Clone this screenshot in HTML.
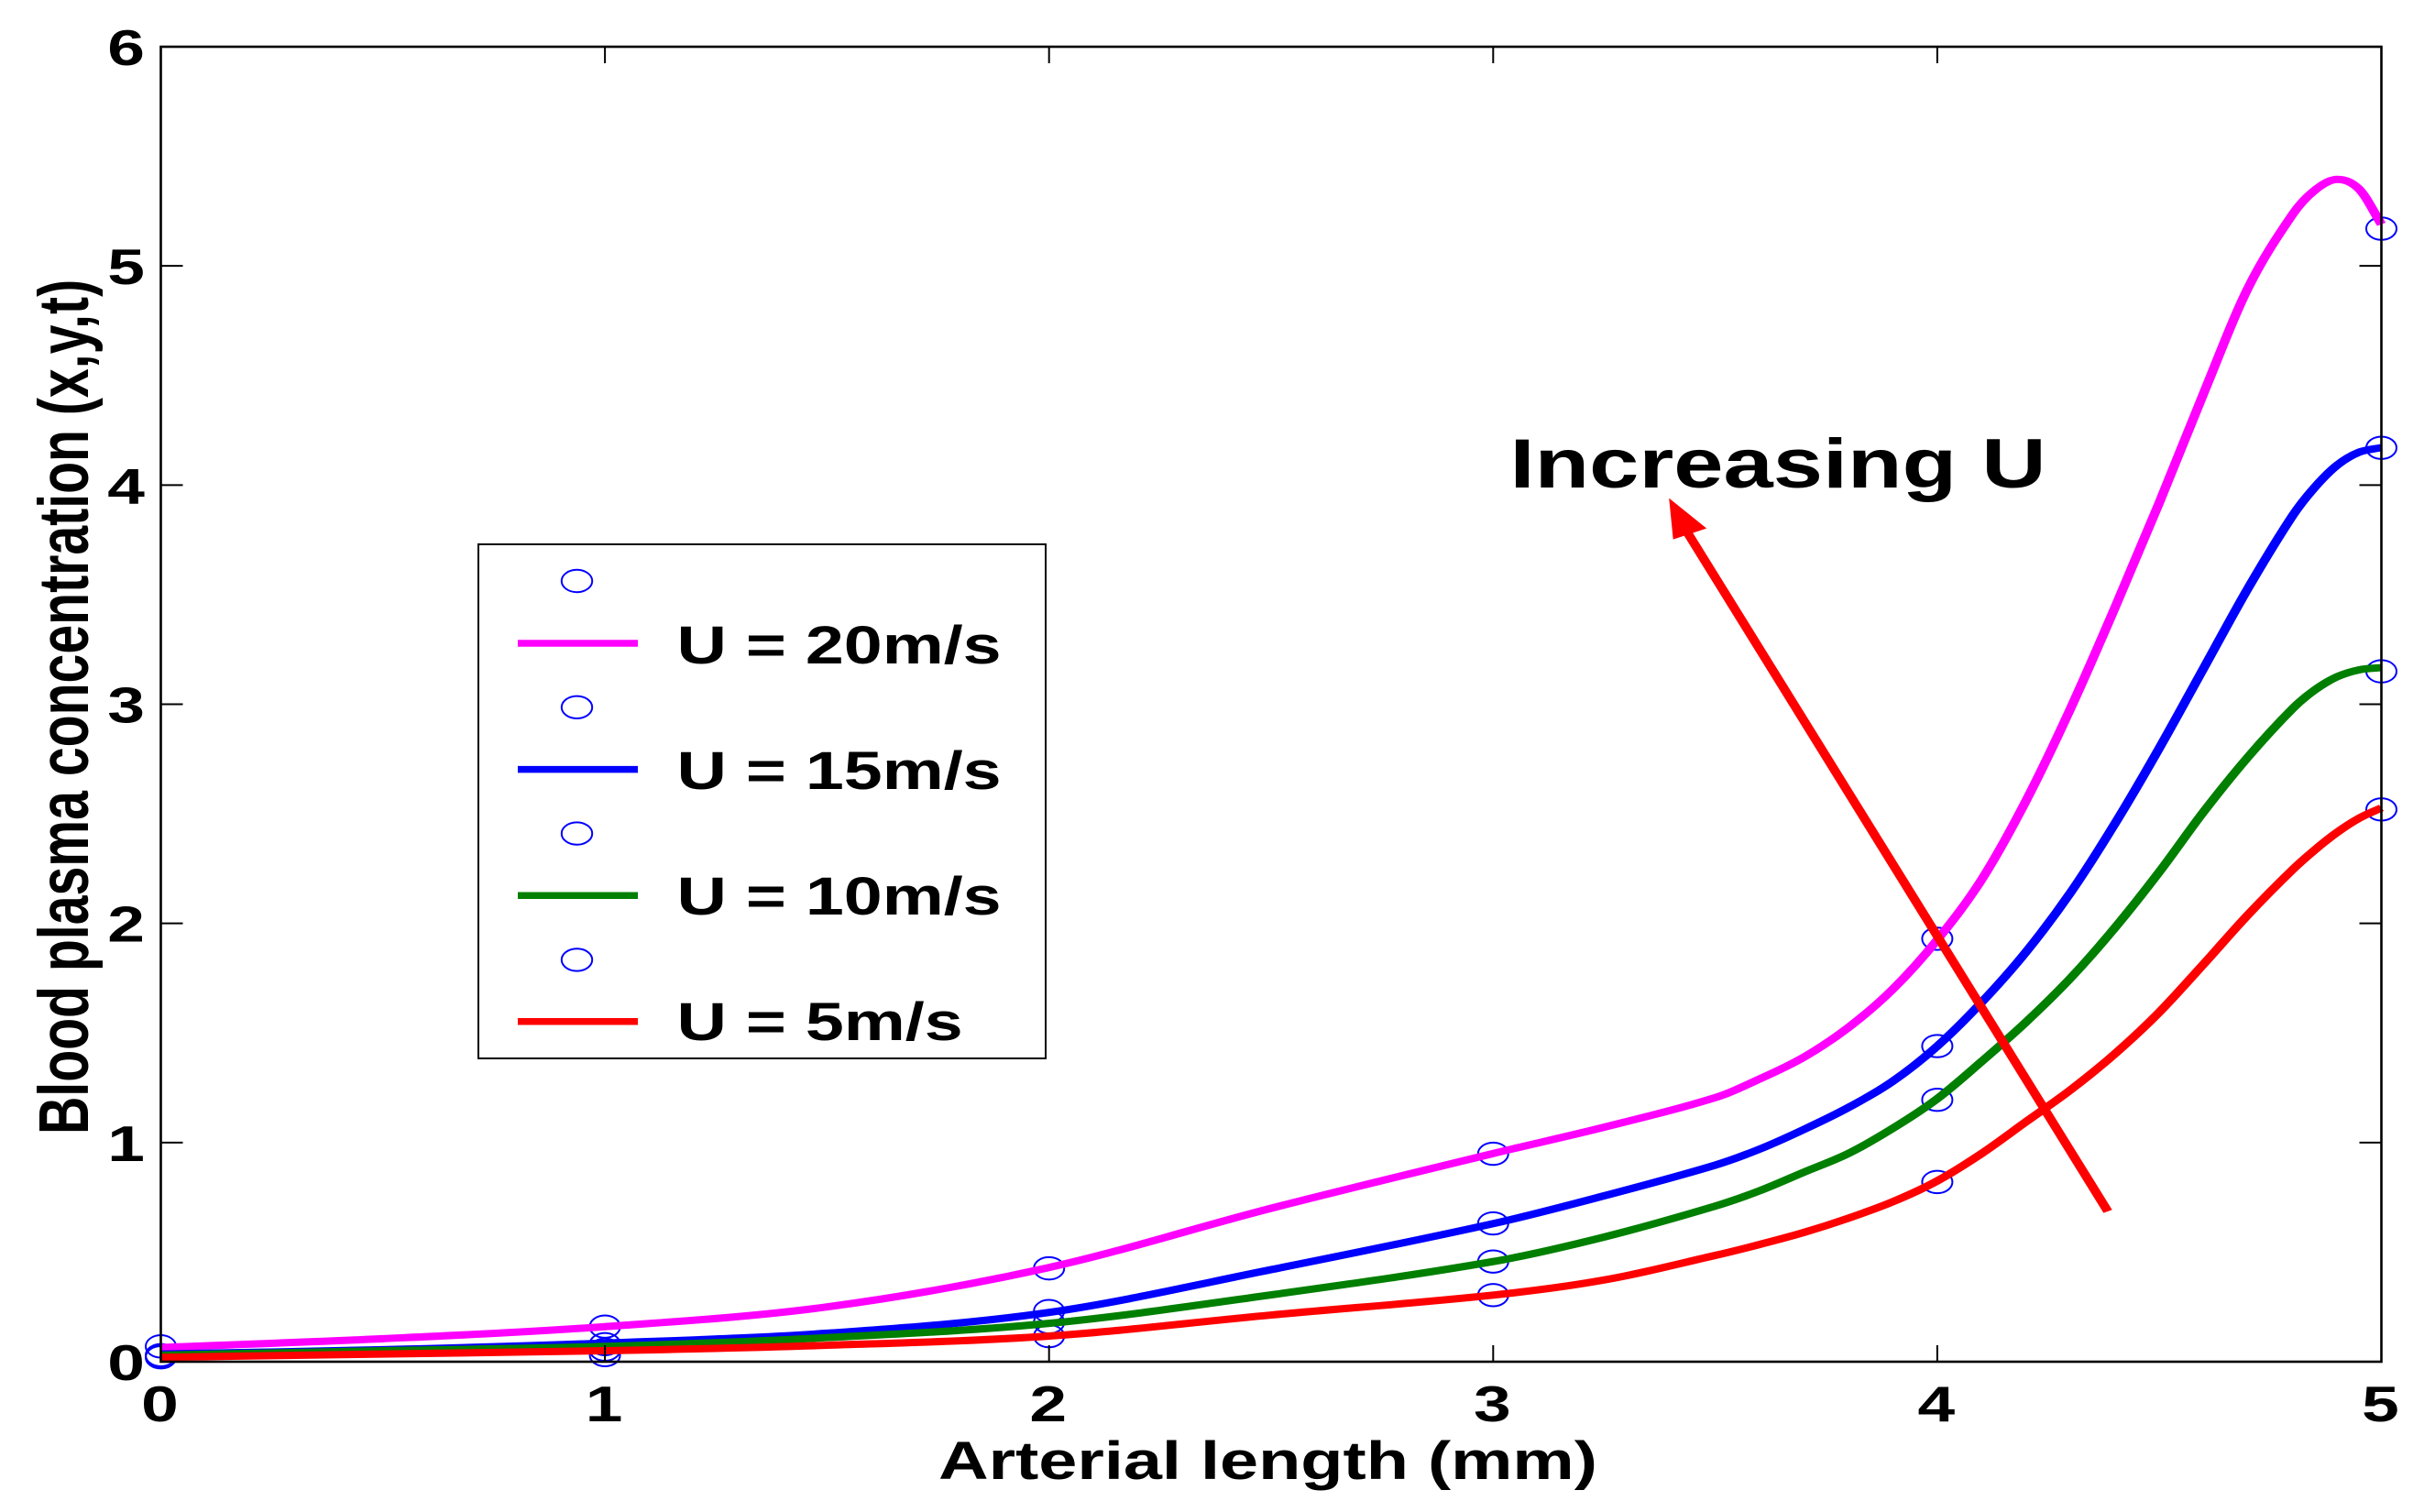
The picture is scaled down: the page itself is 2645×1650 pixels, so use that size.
<!DOCTYPE html>
<html lang="en">
<head>
<meta charset="utf-8">
<title>Blood plasma concentration vs arterial length</title>
<style>
html,body{margin:0;padding:0;background:#fff;width:2645px;height:1650px;overflow:hidden}
svg{display:block}
text{font-family:"Liberation Sans",Arial,sans-serif;font-weight:bold;fill:#000}
</style>
</head>
<body>
<svg id="chart" xmlns="http://www.w3.org/2000/svg" width="2645" height="1650" viewBox="0 0 2645 1650">
  <rect x="0" y="0" width="2645" height="1650" fill="#fff"/>
  <g id="markers"></g>
  <g id="lines"></g>
  <g id="axes"></g>
  <text font-size="58" transform="translate(1024,1614) scale(1.305,1)">Arterial length (mm)</text>
  <text font-size="57.2" transform="translate(96,1238) rotate(-90) scale(1,1.35)">Blood plasma concentration (x,y,t)</text>
  <g id="legend">
    <rect x="522" y="594" width="619" height="561" fill="#fff" stroke="#000" stroke-width="2"/>
  </g>
  <g id="annotation">
    <text font-size="76" transform="translate(1647.5,532) scale(1.283,1)">Increasing U</text>
  </g>
</svg>
<script>
// Axis ranges and tick labels
const xTicks = [0, 1, 2, 3, 4, 5];
const yTicks = [0, 1, 2, 3, 4, 5, 6];

// Series curves at shared arterial-length positions
const lengthMm = [0, 0.5, 1, 1.5, 2, 2.5, 3, 3.25, 3.5, 3.6, 3.7, 3.8, 3.9, 4, 4.1, 4.2, 4.3, 4.4, 4.5, 4.6, 4.7, 4.8, 4.85, 4.9, 4.95, 5];
const magentaY = [0.065, 0.105, 0.16, 0.25, 0.43, 0.70, 0.95, 1.07, 1.205, 1.29, 1.39, 1.525, 1.70, 1.925, 2.2, 2.56, 2.98, 3.44, 3.92, 4.42, 4.90, 5.235, 5.345, 5.395, 5.35, 5.19];
const blueY = [0.035, 0.055, 0.085, 0.13, 0.225, 0.42, 0.63, 0.757, 0.897, 0.97, 1.06, 1.16, 1.28, 1.44, 1.64, 1.87, 2.14, 2.455, 2.80, 3.165, 3.53, 3.86, 3.99, 4.09, 4.15, 4.171];
const greenY = [0.03, 0.05, 0.07, 0.11, 0.175, 0.305, 0.457, 0.569, 0.71, 0.78, 0.865, 0.95, 1.065, 1.2, 1.37, 1.55, 1.75, 1.98, 2.235, 2.51, 2.76, 2.98, 3.065, 3.125, 3.157, 3.167];
const redY = [0.02, 0.035, 0.05, 0.075, 0.117, 0.213, 0.304, 0.373, 0.485, 0.535, 0.59, 0.655, 0.73, 0.825, 0.95, 1.095, 1.24, 1.405, 1.595, 1.815, 2.04, 2.245, 2.335, 2.415, 2.48, 2.527];

// Circle markers
const markerX = [0, 1, 2, 3, 4, 5];
const magentaMarkers = [0.07, 0.16, 0.426, 0.949, 1.93, 5.17];
const blueMarkers = [0.03, 0.08, 0.231, 0.631, 1.44, 4.17];
const greenMarkers = [0.025, 0.055, 0.18, 0.457, 1.195, 3.15];
const redMarkers = [0.02, 0.03, 0.117, 0.304, 0.82, 2.52];

// Legend labels
const legendLabels = ['U = 20m/s', 'U = 15m/s', 'U = 10m/s', 'U = 5m/s'];

// Annotation arrow, in data units: [x, y]
const arrowTail = [4.384, 0.686];
const arrowTip = [3.396, 3.94];

const SVGNS = 'http://www.w3.org/2000/svg';
const plot = { left: 175.5, right: 2598.5, top: 51, bottom: 1486, xMin: 0, xMax: 5, yMin: 0, yMax: 6 };
// The reference raster is stretched horizontally; strokes are drawn in a stretched space
const stretch = 1.3;
function sx(v) { return plot.left + (v - plot.xMin) / (plot.xMax - plot.xMin) * (plot.right - plot.left); }
function sy(v) { return plot.bottom - (v - plot.yMin) / (plot.yMax - plot.yMin) * (plot.bottom - plot.top); }
function make(tag, attrs, parent) {
  const el = document.createElementNS(SVGNS, tag);
  for (const k in attrs) el.setAttribute(k, attrs[k]);
  parent.appendChild(el);
  return el;
}
// Cubic Hermite path with spacing-aware tangents, so uneven sample spacing does not add wobble
function smoothPath(xs, ys) {
  const p = xs.map((x, i) => [sx(x) / stretch, sy(ys[i])]);
  const n = p.length;
  const slope = p.map(function (pt, i) {
    const a = p[Math.max(i - 1, 0)], c = p[Math.min(i + 1, n - 1)];
    return (c[1] - a[1]) / (c[0] - a[0]);
  });
  let d = 'M' + p[0][0].toFixed(2) + ' ' + p[0][1].toFixed(2);
  for (let i = 0; i < n - 1; i++) {
    const b = p[i], c = p[i + 1], h = (c[0] - b[0]) / 3;
    d += 'C' + (b[0] + h).toFixed(2) + ' ' + (b[1] + slope[i] * h).toFixed(2) + ' ' + (c[0] - h).toFixed(2) + ' ' + (c[1] - slope[i + 1] * h).toFixed(2) + ' ' + c[0].toFixed(2) + ' ' + c[1].toFixed(2);
  }
  return d;
}

const seriesList = [
  { key: 'u-20', color: '#ff00ff', ys: magentaY, marks: magentaMarkers },
  { key: 'u-15', color: '#0000ff', ys: blueY, marks: blueMarkers },
  { key: 'u-10', color: '#007f00', ys: greenY, marks: greenMarkers },
  { key: 'u-5', color: '#ff0000', ys: redY, marks: redMarkers }
];

const markersG = document.getElementById('markers');
const linesG = document.getElementById('lines');
seriesList.forEach(function (s) {
  s.marks.forEach(function (v, i) {
    const m = make('ellipse', { cx: sx(markerX[i]), cy: sy(v), rx: 16.5, ry: 12.2, fill: 'none', stroke: '#0000ff', 'stroke-width': 2 }, markersG);
    
    
  });
});
seriesList.forEach(function (s) {
  const l = make('path', { d: smoothPath(lengthMm, s.ys), fill: 'none', stroke: s.color, 'stroke-width': 8, transform: 'scale(' + stretch + ',1)' }, linesG);
  
  
});

// Axes frame, ticks and tick labels
const axesG = document.getElementById('axes');
const frame = make('rect', { x: plot.left, y: plot.top, width: plot.right - plot.left, height: plot.bottom - plot.top, fill: 'none', stroke: '#000', 'stroke-width': 2.6 }, axesG);



xTicks.forEach(function (t) {
  const x = sx(t);
  if (t > plot.xMin && t < plot.xMax) {
    const b = make('line', { x1: x, x2: x, y1: plot.bottom, y2: plot.bottom - 18, stroke: '#000', 'stroke-width': 2 }, axesG);
    
    
    const u = make('line', { x1: x, x2: x, y1: plot.top, y2: plot.top + 18, stroke: '#000', 'stroke-width': 2 }, axesG);
    
    
  }
  const lab = make('text', { 'font-size': 55, 'text-anchor': 'middle', transform: 'translate(' + (x - 1) + ',1551) scale(1.33,1)' }, axesG);
  lab.textContent = String(t);
  
  
});
yTicks.forEach(function (t) {
  const y = sy(t);
  if (t > plot.yMin && t < plot.yMax) {
    const l = make('line', { x1: plot.left, x2: plot.left + 24, y1: y, y2: y, stroke: '#000', 'stroke-width': 2 }, axesG);
    
    
    const r = make('line', { x1: plot.right, x2: plot.right - 24, y1: y, y2: y, stroke: '#000', 'stroke-width': 2 }, axesG);
    
    
  }
  const lab = make('text', { 'font-size': 55, 'text-anchor': 'end', transform: 'translate(158,' + (y + 20) + ') scale(1.33,1)' }, axesG);
  lab.textContent = String(t);
  
  
});

// Legend
const legendG = document.getElementById('legend');
seriesList.forEach(function (s, i) {
  const markerY = 634 + i * 137.8;
  const lineY = 702 + i * 137.6;
  const textY = 724 + i * 137;
  const mk = make('ellipse', { cx: 629.5, cy: markerY, rx: 16.7, ry: 12.2, fill: 'none', stroke: '#0000ff', 'stroke-width': 2 }, legendG);
  
  
  const ln = make('line', { x1: 565, x2: 696, y1: lineY, y2: lineY, stroke: s.color, 'stroke-width': 7.5 }, legendG);
  
  
  const tx = make('text', { 'font-size': 58, transform: 'translate(738.5,' + textY + ') scale(1.3,1)' }, legendG);
  tx.textContent = legendLabels[i];
  
  
});

// Annotation arrow
const annG = document.getElementById('annotation');
const tipX = sx(arrowTip[0]), tipY = sy(arrowTip[1]), tailX = sx(arrowTail[0]), tailY = sy(arrowTail[1]);
const shaft = make('line', { x1: tailX / stretch, y1: tailY, x2: (tipX + 21) / stretch, y2: tipY + 39, stroke: '#ff0000', 'stroke-width': 8, transform: 'scale(' + stretch + ',1)' }, annG);


const head = make('polygon', { points: tipX + ',' + tipY + ' ' + (tipX + 4.5) + ',' + (tipY + 45) + ' ' + (tipX + 41) + ',' + (tipY + 33), fill: '#ff0000' }, annG);


</script>
</body>
</html>
